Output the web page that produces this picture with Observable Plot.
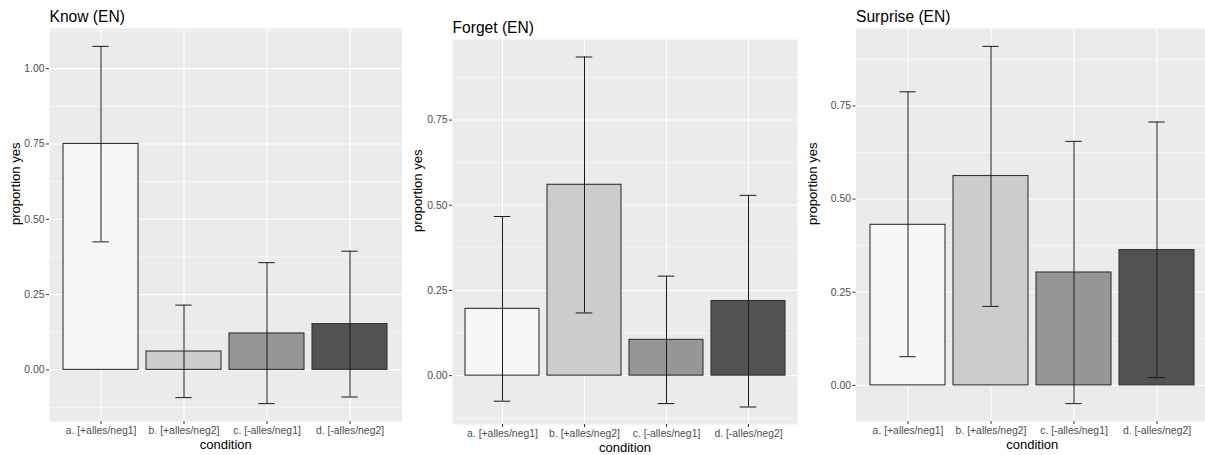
<!DOCTYPE html>
<html>
<head>
<meta charset="utf-8">
<script src="https://cdn.jsdelivr.net/npm/d3@7"></script>
<script src="https://cdn.jsdelivr.net/npm/@observablehq/plot@0.6"></script>
<style>
  html, body { margin: 0; padding: 0; background: #fff; }
  #wrap { position: relative; width: 1205px; height: 455px; overflow: hidden; font-family: "Liberation Sans", Arial, sans-serif; }
  #wrap > svg { position: absolute; top: 0; overflow: visible; }
</style>
</head>
<body>
<div id="wrap"></div>
<script>
const conditions = ["a. [+alles/neg1]", "b. [+alles/neg2]", "c. [-alles/neg1]", "d. [-alles/neg2]"];
const fills = ["#F7F7F7", "#CCCCCC", "#969696", "#525252"];

const knowMean = [0.75, 0.061, 0.121, 0.152];
const knowLo   = [0.425, -0.092, -0.112, -0.090];
const knowHi   = [1.074, 0.215, 0.356, 0.394];

const forgetMean = [0.196, 0.560, 0.105, 0.219];
const forgetLo   = [-0.075, 0.184, -0.082, -0.092];
const forgetHi   = [0.467, 0.935, 0.292, 0.529];

const surpriseMean = [0.431, 0.562, 0.303, 0.363];
const surpriseLo   = [0.077, 0.212, -0.049, 0.021];
const surpriseHi   = [0.788, 0.910, 0.655, 0.707];

const majorTicks = [0, 0.25, 0.5, 0.75, 1.0];
const minorTicks = [-0.125, 0.125, 0.375, 0.625, 0.875, 1.125];

const panels = [
  {title: "Know (EN)", mean: knowMean, lo: knowLo, hi: knowHi, left: 0, width: 401.5, ml: 49, mt: 28, mb: 34},
  {title: "Forget (EN)", mean: forgetMean, lo: forgetLo, hi: forgetHi, left: 401.5, width: 395, ml: 50, mt: 39, mb: 31},
  {title: "Surprise (EN)", mean: surpriseMean, lo: surpriseLo, hi: surpriseHi, left: 796.5, width: 411, ml: 58.5, mt: 28, mb: 34}
];

const wrap = document.getElementById("wrap");
const H = 455;
const axisText = 10.4, axisTitle = 13, titleSize = 15.6;

for (const p of panels) {
  const data = conditions.map((c, i) => ({condition: c, mean: p.mean[i], lo: p.lo[i], hi: p.hi[i]}));
  const vals = [0, ...p.mean, ...p.lo, ...p.hi];
  const mn = d3.min(vals), mx = d3.max(vals);
  const pad = (mx - mn) * 0.05;
  const domain = [mn - pad, mx + pad];
  const inDom = t => t >= domain[0] && t <= domain[1];
  const plotW = p.width - p.ml;
  const step = plotW / 4.2;
  const bw = step * 0.9;
  const capInset = (bw - step * 0.2) / 2;

  const chart = Plot.plot({
    width: p.width,
    height: H,
    marginLeft: p.ml,
    marginRight: 0,
    marginTop: p.mt,
    marginBottom: p.mb,
    style: {fontFamily: '"Liberation Sans", Arial, sans-serif', background: "transparent", overflow: "visible"},
    x: {domain: conditions, paddingInner: 0.1, paddingOuter: 0.15, label: null},
    y: {domain, label: null},
    color: {domain: conditions, range: fills},
    marks: [
      Plot.frame({fill: "#EBEBEB", stroke: null}),
      Plot.ruleY(minorTicks.filter(inDom), {stroke: "#fff", strokeWidth: 0.55}),
      Plot.ruleY(majorTicks.filter(inDom), {stroke: "#fff", strokeWidth: 1.1}),
      Plot.ruleX(conditions, {x: d => d, stroke: "#fff", strokeWidth: 1.1}),
      Plot.barY(data, {x: "condition", y: "mean", fill: "condition", stroke: "#333", strokeWidth: 1.1}),
      Plot.ruleX(data, {x: "condition", y1: "lo", y2: "hi", stroke: "#1a1a1a", strokeWidth: 1}),
      Plot.tickY(data, {x: "condition", y: "lo", stroke: "#1a1a1a", strokeWidth: 1, insetLeft: capInset, insetRight: capInset}),
      Plot.tickY(data, {x: "condition", y: "hi", stroke: "#1a1a1a", strokeWidth: 1, insetLeft: capInset, insetRight: capInset}),
      Plot.axisY({ticks: majorTicks.filter(inDom), tickFormat: d3.format(".2f"), tickSize: 3, tickPadding: 2, stroke: "#333", fill: "#4D4D4D", fontSize: axisText, label: null}),
      Plot.axisX({tickSize: 3, tickPadding: 2.5, stroke: "#333", fill: "#4D4D4D", fontSize: axisText, label: null}),
      Plot.text(["proportion yes"], {frameAnchor: "left", dx: -p.ml + 15, rotate: -90, fontSize: axisTitle, fill: "#000"}),
      Plot.text(["condition"], {frameAnchor: "bottom", lineAnchor: "top", dy: 18.5, fontSize: axisTitle, fill: "#000"}),
      Plot.text([p.title], {frameAnchor: "top-left", textAnchor: "start", lineAnchor: "bottom", dy: -7, fontSize: titleSize, fill: "#000"})
    ]
  });
  chart.style.left = p.left + "px";
  wrap.appendChild(chart);
}
</script>
</body>
</html>
